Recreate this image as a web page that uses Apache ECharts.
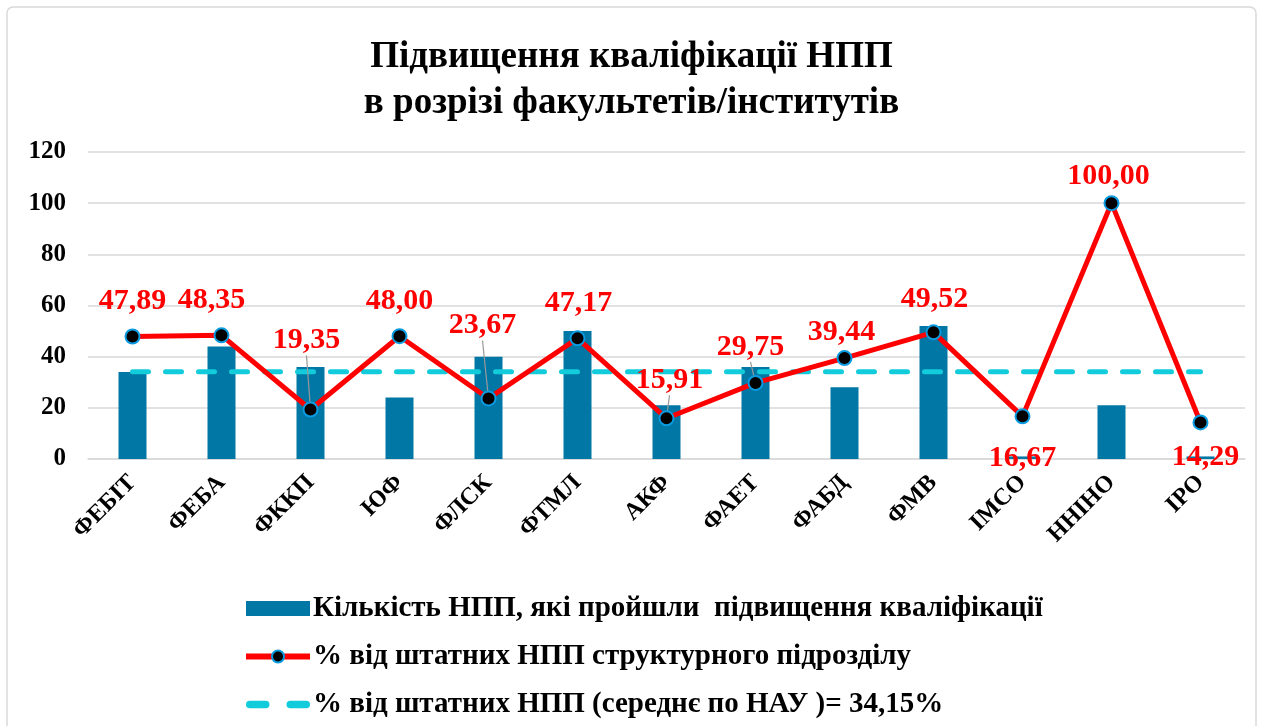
<!DOCTYPE html>
<html><head><meta charset="utf-8">
<script src="https://cdn.jsdelivr.net/npm/echarts@6/dist/echarts.min.js"></script>
<style>html,body{margin:0;padding:0;background:#fff}#c{width:1263px;height:726px}</style>
</head><body><div id="c"></div>
<script>
const categories = ['ФЕБІТ','ФЕБА','ФККП','ЮФ','ФЛСК','ФТМЛ','АКФ','ФАЕТ','ФАБД','ФМВ','ІМСО','ННІНО','ІРО'];
const trainedCount = [34, 44, 36, 24, 40, 50, 21, 36, 28, 52, 1, 21, 1];
const pctOfStaff = [47.89, 48.35, 19.35, 48.00, 23.67, 47.17, 15.91, 29.75, 39.44, 49.52, 16.67, 100.00, 14.29];
const pctAverage = [34.15, 34.15, 34.15, 34.15, 34.15, 34.15, 34.15, 34.15, 34.15, 34.15, 34.15, 34.15, 34.15];
const yTicks = [0, 20, 40, 60, 80, 100, 120];
const seriesNames = [
  'Кількість НПП, які пройшли  підвищення кваліфікації',
  '% від штатних НПП структурного підрозділу',
  '% від штатних НПП (середнє по НАУ )= 34,15%'
];

// label layout tweaks (dx, dy) and which labels get leader lines
const labelShift = {0:[0,0],1:[-10,0],2:[-4,-34],3:[0,0],4:[-6,-38],5:[1,0],6:[3,-3],7:[-5,-1],8:[-3,9],9:[1,2],10:[0,7],11:[-3,8],12:[5,0]};
const leaderIdx = [2,4,6,7];
const belowIdx = [10,12];

const dashIcon = 'path://M3.5,0 H18.5 A3.5,3.5 0 0 1 18.5,7 H3.5 A3.5,3.5 0 0 1 3.5,0 Z M41.5,0 H56.5 A3.5,3.5 0 0 1 56.5,7 H41.5 A3.5,3.5 0 0 1 41.5,0 Z';

const serif = '"Liberation Serif","Times New Roman",serif';
const chart = echarts.init(document.getElementById('c'));
chart.setOption({
  animation:false,
  backgroundColor:'#fff',
  graphic:[{type:'rect',shape:{x:7,y:7,width:1249,height:740,r:6},style:{fill:'none',stroke:'#d9d9d9',lineWidth:1.5},silent:true,z:-1}],
  title:{
    text:'Підвищення кваліфікації НПП\nв розрізі факультетів/інститутів',
    left:'center', top:29,
    textStyle:{fontFamily:serif,fontWeight:'bold',fontSize:37,lineHeight:46,color:'#000'}
  },
  grid:{left:88,right:18,top:152,bottom:267},
  legend:{
    orient:'vertical', left:238, top:589, itemGap:19,
    itemWidth:64, itemHeight:15, symbolKeepAspect:true,
    textStyle:{fontFamily:serif,fontWeight:'bold',fontSize:29,color:'#000',padding:[0,0,0,-2]},
    data:[
      {name:seriesNames[0],icon:'rect'},
      {name:seriesNames[1],lineStyle:{width:6,color:'#FF0000'}},
      {name:seriesNames[2],icon:dashIcon,itemStyle:{color:'#12CCDB',borderWidth:0}}
    ]
  },
  xAxis:{
    type:'category', data:categories,
    axisLine:{show:true,lineStyle:{color:'#d9d9d9',width:1.5}},
    axisTick:{show:false},
    axisLabel:{rotate:45,interval:0,margin:20,fontFamily:serif,fontWeight:'bold',fontSize:24,color:'#000'}
  },
  yAxis:{
    type:'value', min:yTicks[0], max:yTicks[yTicks.length-1], interval:20,
    axisLine:{show:false}, axisTick:{show:false},
    splitLine:{lineStyle:{color:'#d9d9d9',width:1.5}},
    axisLabel:{margin:22,fontFamily:serif,fontWeight:'bold',fontSize:25,color:'#000'}
  },
  series:[
    {name:seriesNames[0],type:'bar',data:trainedCount,barWidth:28,
     itemStyle:{color:'#0077A4'}},
    {name:seriesNames[2],type:'line',data:pctAverage,symbol:'none',z:3,
     lineStyle:{color:'#12CCDB',width:5,type:[16,17],cap:'round'},
     itemStyle:{color:'#12CCDB'}},
    {name:seriesNames[1],type:'line',z:5,
     data:pctOfStaff.map((v,i)=>({value:v,
        label:{position: belowIdx.includes(i)?'bottom':'top'},
        labelLine:{show: leaderIdx.includes(i)}})),
     symbol:'circle',symbolSize:14,
     lineStyle:{color:'#FF0000',width:5},
     itemStyle:{color:'#000',borderColor:'#0A9BE0',borderWidth:2},
     label:{show:true,distance:12,fontFamily:serif,fontWeight:'bold',fontSize:30,color:'#FF0000',
       formatter:p=>p.value.toFixed(2).replace('.',',')},
     labelLine:{lineStyle:{color:'#999',width:1.2}},
     labelLayout:function(p){const s=labelShift[p.dataIndex]||[0,0];return {dx:s[0],dy:s[1]};}
    }
  ]
});
</script></body></html>
